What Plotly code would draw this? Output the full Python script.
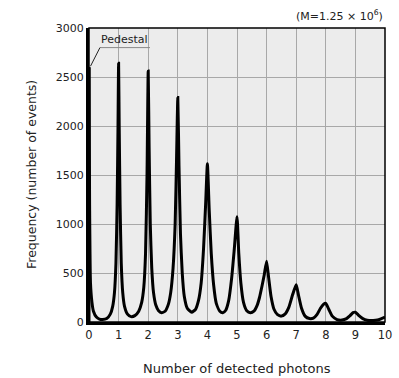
import plotly.graph_objects as go

# Photon-counting pulse height spectrum (M = 1.25 x 10^6)
photons = [
    0.0, 0.02, 0.05, 0.1, 0.15, 0.25, 0.35, 0.46, 0.6, 0.72, 0.8, 0.86, 0.91, 0.95, 0.98, 1.0,
    1.02, 1.05, 1.09, 1.14, 1.2, 1.3, 1.42, 1.55, 1.68, 1.78, 1.85, 1.91, 1.96, 2.0,
    2.03, 2.07, 2.12, 2.18, 2.26, 2.35, 2.45, 2.57, 2.68, 2.76, 2.84, 2.91, 2.96, 3.0,
    3.04, 3.09, 3.15, 3.22, 3.32, 3.47, 3.6, 3.7, 3.79, 3.87, 3.94, 4.0,
    4.06, 4.13, 4.21, 4.3, 4.42, 4.52, 4.62, 4.72, 4.82, 4.91, 5.0,
    5.06, 5.13, 5.22, 5.33, 5.45, 5.57, 5.68, 5.76, 5.84, 5.92, 6.0,
    6.07, 6.15, 6.25, 6.37, 6.5, 6.62, 6.75, 6.88, 7.0,
    7.08, 7.18, 7.3, 7.45, 7.58, 7.7, 7.82, 7.92, 8.0,
    8.1, 8.22, 8.38, 8.55, 8.7, 8.82, 8.92, 9.0,
    9.1, 9.25, 9.4, 9.6, 9.75, 9.88, 10.0,
]
frequency = [
    2600, 1200, 400, 200, 110, 50, 30, 25, 35, 80, 160, 300, 600, 1200, 2000, 2640,
    2000, 1200, 600, 300, 160, 80, 55, 65, 110, 200, 350, 700, 1500, 2560,
    1800, 1000, 550, 300, 170, 115, 95, 110, 180, 300, 550, 1000, 1700, 2290,
    1600, 900, 500, 260, 140, 100, 130, 220, 400, 750, 1200, 1615,
    1150, 700, 380, 190, 110, 95, 120, 220, 450, 750, 1075,
    700, 400, 200, 115, 95, 110, 170, 250, 360, 480, 620,
    450, 260, 130, 75, 60, 80, 150, 280, 380,
    270, 140, 60, 35, 40, 75, 140, 180, 190,
    130, 60, 25, 20, 35, 65, 95, 100,
    70, 35, 18, 15, 20, 35, 50,
]

x_ticks = list(range(0, 11))
y_ticks = [0, 500, 1000, 1500, 2000, 2500, 3000]

font_family = "DejaVu Sans"
text_color = "#222222"

fig = go.Figure()

# Pedestal drawn down along the left edge
fig.add_trace(go.Scatter(
    x=[0, 0], y=[0, frequency[0]], mode="lines",
    line=dict(color="black", width=3), hoverinfo="skip", showlegend=False,
))
fig.add_trace(go.Scatter(
    x=photons, y=frequency, mode="lines",
    line=dict(color="black", width=3, shape="spline", smoothing=0.5),
    showlegend=False,
))

# Pedestal label with underline and leader line
fig.add_shape(type="line", x0=0.37, x1=2.06, y0=2800, y1=2800,
              line=dict(color="#888888", width=1))
fig.add_shape(type="line", x0=0.37, x1=0.05, y0=2800, y1=2610,
              line=dict(color="#222222", width=1))
fig.add_annotation(x=1.2, y=2885, text="Pedestal", showarrow=False,
                   font=dict(family=font_family, size=11, color=text_color))

fig.add_annotation(xref="paper", yref="paper", x=1.0, y=1.0, yshift=3,
                   xanchor="right", yanchor="bottom", showarrow=False,
                   text="(M=1.25 × 10<sup>6</sup>)",
                   font=dict(family=font_family, size=11, color=text_color))

# Axis titles
fig.add_annotation(xref="paper", yref="paper", x=0.5, y=0, yshift=-46,
                   xanchor="center", yanchor="middle", showarrow=False,
                   text="Number of detected photons",
                   font=dict(family=font_family, size=13, color=text_color))
fig.add_annotation(xref="paper", yref="paper", x=0, y=0.5, xshift=-58,
                   xanchor="center", yanchor="middle", showarrow=False,
                   textangle=-90, text="Frequency (number of events)",
                   font=dict(family=font_family, size=12.5, color=text_color))

# Plot frame (top and right edges)
fig.add_shape(type="rect", xref="paper", yref="paper", x0=0, x1=1, y0=0, y1=1,
              line=dict(color="black", width=1.5), layer="above")

fig.update_xaxes(
    range=[0, 10], tickvals=x_ticks, ticktext=[str(v) for v in x_ticks],
    showgrid=True, gridcolor="#a8a8a8", gridwidth=1,
    showline=True, linecolor="black", linewidth=3,
    ticks="", zeroline=False, automargin=False,
    tickfont=dict(family=font_family, size=11.5, color=text_color),
)
fig.update_yaxes(
    range=[0, 3000], tickvals=y_ticks,
    showgrid=True, gridcolor="#a8a8a8", gridwidth=1,
    showline=True, linecolor="black", linewidth=3,
    ticks="", zeroline=False, automargin=False,
    tickfont=dict(family=font_family, size=11, color=text_color),
)

fig.update_layout(
    width=399, height=378,
    margin=dict(l=89, r=14, t=28, b=56),
    paper_bgcolor="white", plot_bgcolor="#ececec",
    font=dict(family=font_family, color=text_color),
)

fig.write_html("out.html")
